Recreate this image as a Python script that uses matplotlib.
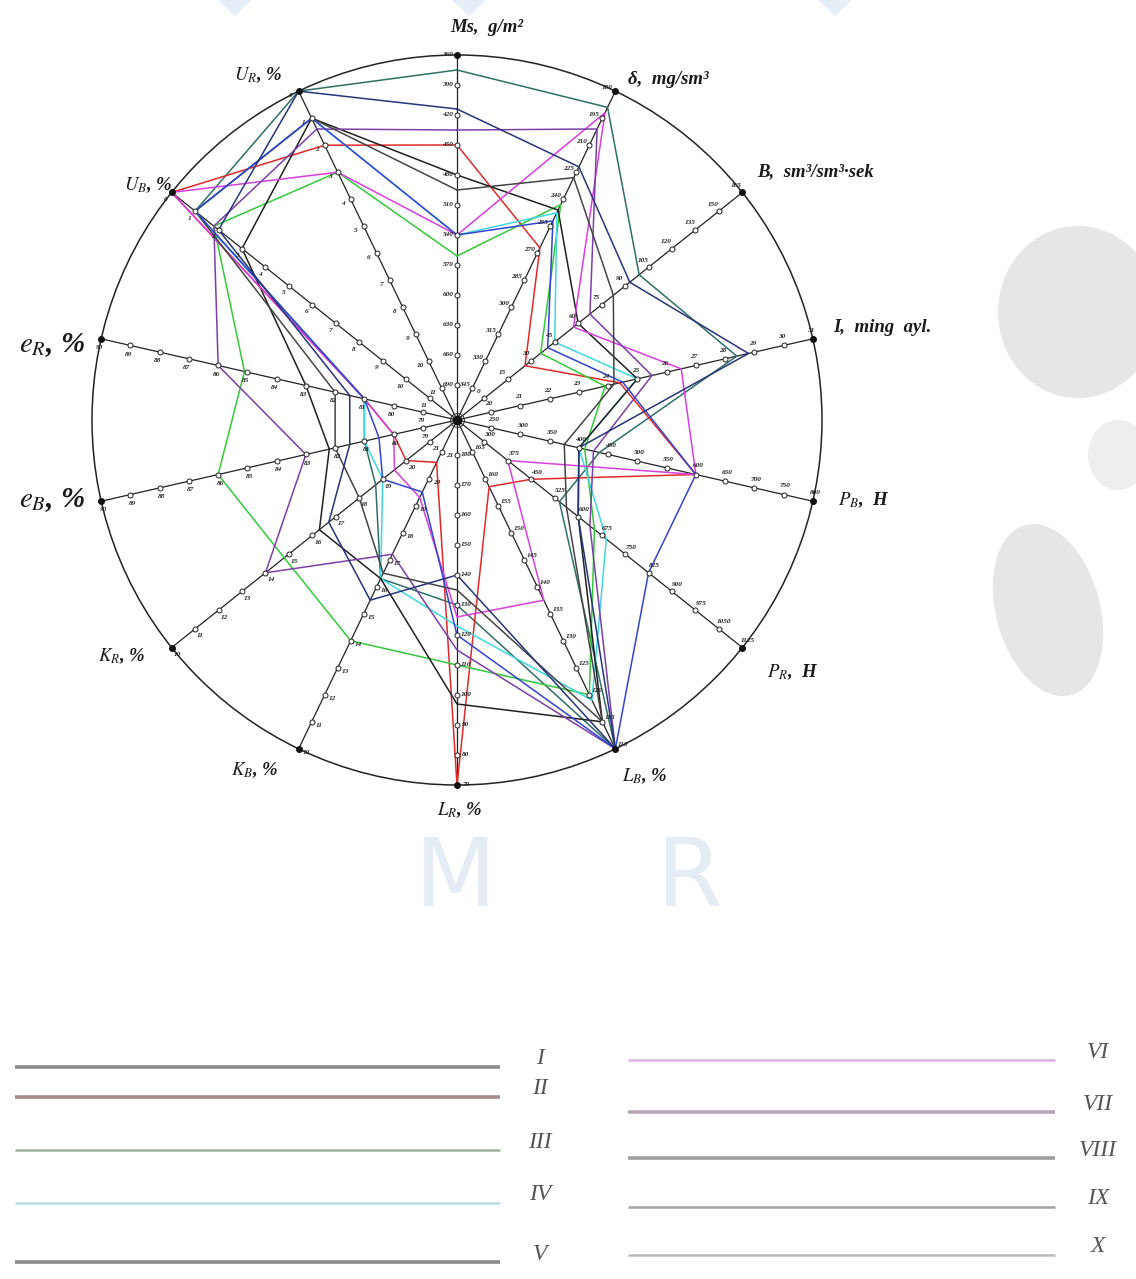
import numpy as np
import matplotlib
matplotlib.use('Agg')
import matplotlib.pyplot as plt
from matplotlib.patches import Circle, Ellipse, Polygon

plt.rcParams['mathtext.fontset'] = 'stix'
plt.rcParams['font.family'] = ['Liberation Serif', 'DejaVu Serif']

#%% diagram axes, clockwise from the top
axis_names = ['Ms,  g/m²', 'δ,  mg/sm³', 'B,  sm³/sm³·sek', 'I,  ming  ayl.',
              r'$P_B$,  H', r'$P_R$,  H', r'$L_B$, %', r'$L_R$, %',
              r'$K_B$, %', r'$K_R$, %', r'$e_B$, %', r'$e_R$, %',
              r'$U_B$, %', r'$U_R$, %']
rim_value = [360, 180, 165, 31, 800, 1125, 110, 70, 10, 10, 90, 90, 0, 0]
tick_step = [30, 15, -15, -1, -50, -75, 5, 10, 1, 1, -1, -1, 1, 1]

#%% variants I..X, one value per axis (same order as axis_names)
variants = ['I', 'II', 'III', 'IV', 'V', 'VI', 'VII', 'VIII', 'IX', 'X']
v_I    = [375, 189, 99, 28.4, 435, 540, 110, 130, 16.3, 18.7, 81, 81, 1, 0]
v_II   = [450, 267, 26, 24.4, 600, 450, 158.5, 70, 20.6, 20, 80, 81, 0, 2]
v_III  = [561, 243, 36, 23.9, 410, 652, 120, 110, 14, 14.8, 86, 85.1, 1.8, 3]
v_IV   = [540, 247.5, 45, 25, 400, 690, 119, 123, 16.3, 19, 81, 81, 1, 1]
v_V    = [480, 246, 60, 25, 400, 600, 115, 97, 16.3, 16.3, 82.2, 83, 3, 1]
v_VI   = [540, 192, 57, 26.5, 600, 375, 137.5, 126, 19.3, 19.5, 80, 81, 0, 3]
v_VII  = [435, 201, 67.5, 25.5, 425, 637.5, 110, 115, 17.2, 14, 83, 86, 1.8, 1.4]
v_VIII = [495, 228, 82.5, 24.2, 375, 562.5, 115, 135, 16.5, 18, 82, 82, 1, 1]
v_IX   = [540, 252, 40.5, 24.5, 600, 825, 110, 120, 19.5, 19, 80.5, 81, 1, 1]
v_X    = [414, 222, 93, 28.8, 400, 600, 110, 140, 15.5, 16.7, 81.5, 81.5, 2, 0]
series = [v_I, v_II, v_III, v_IV, v_V, v_VI, v_VII, v_VIII, v_IX, v_X]

line_colors = ['#2f6f66', '#e02a2a', '#35c83a', '#3fd8e2', '#202020',
               '#d83ee0', '#7b3fa8', '#454545', '#3344d0', '#26347a']
legend_colors = ['#8c8c8c', '#a58c8c', '#9cb09c', '#b4e0e4', '#8a8a8a',
                 '#dcb0e4', '#b8a4b8', '#a0a0a0', '#a4a4a4', '#bcbcbc']

#%% geometry (pixels)
W, H = 1136, 1279
cx, cy = 457, 420
R = 365
SP = 30.0          # distance between ticks
NT = 12            # ticks per axis, rim included
N = len(axis_names)

def ang(i):
    return np.deg2rad(90 - i * 360.0 / N)

def to_xy(i, v):
    k = (v - rim_value[i]) / tick_step[i]
    r = R - k * SP
    return cx + r * np.cos(ang(i)), cy - r * np.sin(ang(i))

fig = plt.figure(figsize=(W / 100, H / 100), dpi=100)
ax = fig.add_axes([0, 0, 1, 1])
ax.set_xlim(0, W)
ax.set_ylim(H, 0)
ax.axis('off')

# faint background decoration
for x0 in [218, 452, 818]:
    ax.add_patch(Polygon([[x0, 0], [x0 + 34, 0], [x0 + 17, 16]], closed=True,
                         color='#e6eef8', lw=0, zorder=0))
ax.add_patch(Ellipse((1078, 312), 160, 172, color='#e6e6e6', lw=0, zorder=0))
ax.add_patch(Ellipse((1118, 455), 60, 70, color='#eeeeee', lw=0, zorder=0))
ax.add_patch(Ellipse((1048, 610), 104, 176, angle=-15, color='#e6e6e6', lw=0, zorder=0))
for ch, x in [('M', 455), ('R', 690)]:
    ax.text(x, 880, ch, fontsize=68, color='#e5ecf3', ha='center', va='center',
            family=['Liberation Sans Narrow', 'DejaVu Sans'], zorder=0)

# rim circle
ax.add_patch(Circle((cx, cy), R, fill=False, ec='#222222', lw=1.1, zorder=2))

# axes with ticks
for i in range(N):
    c, s = np.cos(ang(i)), np.sin(ang(i))
    ax.plot([cx, cx + R * c], [cy, cy - R * s], color='#222222', lw=0.9, zorder=2)
    for k in range(NT):
        v = rim_value[i] + k * tick_step[i]
        x, y = to_xy(i, v)
        if k == 0:
            ax.plot(x, y, 'o', ms=4, color='#111111', zorder=5)
        else:
            ax.plot(x, y, 'o', ms=3.6, mfc='white', mec='#222222', mew=0.7, zorder=5)
        ax.text(x - s * 9, y - c * 9, '%d' % v, fontsize=5.2, style='italic',
                weight='bold', ha='center', va='center', color='#222222', zorder=6)
ax.plot(cx, cy, 'o', ms=6, mfc='#111111', mec='#111111', zorder=6)
ax.plot(cx, cy, 'o', ms=10, mfc='none', mec='#333333', mew=0.7, zorder=6)

# variant polygons
for vals, col in zip(series, line_colors):
    pts = [to_xy(i, vals[i]) for i in range(N)]
    pts.append(pts[0])
    xs, ys = zip(*pts)
    ax.plot(xs, ys, color=col, lw=1.1, zorder=3)

# axis titles
title_pos = [(487, 28, 'center'), (628, 80, 'left'), (757, 172, 'left'),
             (833, 327, 'left'), (838, 500, 'left'), (767, 672, 'left'),
             (645, 776, 'center'), (460, 810, 'center'), (255, 770, 'center'),
             (122, 656, 'center'), (52, 500, 'center'), (52, 345, 'center'),
             (148, 185, 'center'), (258, 75, 'center')]
for name, (x, y, ha) in zip(axis_names, title_pos):
    fs = 21 if name.startswith('$e') else 13.5
    ax.text(x, y, name, fontsize=fs, style='italic', weight='bold', ha=ha,
            va='center', color='#1a1a1a')

# legend
leg_y = [1067, 1097, 1150, 1203, 1262, 1060, 1112, 1158, 1207, 1255]
for j, (name, col) in enumerate(zip(variants, legend_colors)):
    if j < 5:
        x0, x1, xt = 15, 500, 540
    else:
        x0, x1, xt = 628, 1055, 1098
    lw = 2.6 if j in (0, 1, 4, 6, 7) else 1.8
    ax.plot([x0, x1], [leg_y[j], leg_y[j]], color=col, lw=lw, solid_capstyle='butt')
    ax.text(xt, leg_y[j] - 8, name, fontsize=17, style='italic', ha='center',
            va='center', color='#555555')

fig.savefig('out.png', dpi=100)
